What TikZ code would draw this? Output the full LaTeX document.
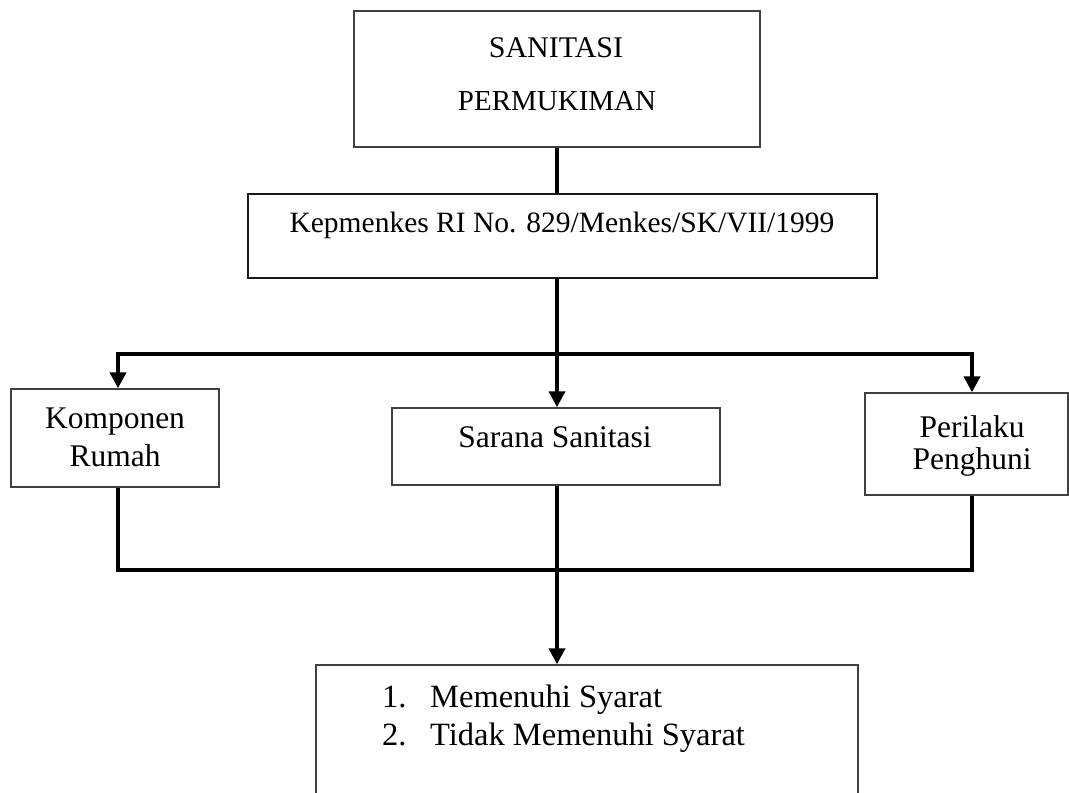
\documentclass[tikz,border=0pt]{standalone}
\usepackage{fontspec}
\setmainfont{Liberation Serif}
\usetikzlibrary{arrows.meta}
\begin{document}
\begin{tikzpicture}[x=1pt,y=-1pt,
  box/.style={draw=black!75, line width=1.5pt, inner sep=0pt},
  kbox/.style={draw=black!90, line width=2.5pt, inner sep=0pt},
  txt/.style={inner sep=0pt, anchor=base, font=\fontsize{31.5}{36}\selectfont},
  ltxt/.style={txt, anchor=base west, font=\fontsize{32.5}{38}\selectfont},
  conn/.style={line width=4.5pt},
  arrow/.style={line width=4.5pt, -{Triangle[width=16pt,length=16pt]}}]
\useasboundingbox (0,0) rectangle (1069,793);
\fill[white] (0,0) rectangle (1069,793);
\clip (0,0) rectangle (1069,793);
% boxes
\node[box, minimum width=406pt, minimum height=136pt] (top) at (557,79) {};
\node[kbox, minimum width=629pt, minimum height=84pt] (kep) at (562.5,236) {};
\node[box, minimum width=208pt, minimum height=98pt] (komp) at (115,438) {};
\node[box, minimum width=328pt, minimum height=77pt] (sar) at (556,446.5) {};
\node[box, minimum width=203pt, minimum height=102pt] (per) at (966.5,444) {};
\node[box, minimum width=542pt, minimum height=175pt] (res) at (587,752.5) {};
% texts
\node[txt, font=\fontsize{30}{34}\selectfont] (t1) at (556,57) {SANITASI};
\node[txt, font=\fontsize{29}{34}\selectfont] (t2) at (557,110) {PERMUKIMAN};
\node[txt, font=\fontsize{29.5}{34}\selectfont] (tk) at (562,232) {Kepmenkes RI No. 829/Menkes/SK/VII/1999};
\node[txt] (tc1) at (115,428) {Komponen};
\node[txt] (tc2) at (115,466) {Rumah};
\node[txt] (ts) at (555,447) {Sarana Sanitasi};
\node[txt] (tp1) at (972,437) {Perilaku};
\node[txt] (tp2) at (972,469) {Penghuni};
\node[ltxt] (n1) at (382,707) {1.};
\node[ltxt] (l1) at (430,707) {Memenuhi Syarat};
\node[ltxt] (n2) at (382,745) {2.};
\node[ltxt] (l2) at (430,745) {Tidak Memenuhi Syarat};
% junctions
\coordinate (j1) at (557,354);
\coordinate (j1l) at (118,354);
\coordinate (j1r) at (972,354);
\coordinate (j2) at (557,570);
% connectors
\draw[conn] (top.south -| j1) -- (kep.north -| j1);
\draw[conn] (kep.south -| j1) -- (j1);
\draw[arrow] (j1) -| (komp.north -| j1l);
\draw[arrow] (j1) -| (per.north -| j1r);
\draw[arrow] (j1) -- (sar.north -| j1);
\draw[conn] (komp.south -| j1l) |- (j2);
\draw[conn] (per.south -| j1r) |- (j2);
\draw[arrow] (sar.south -| j2) -- (res.north -| j2);
\end{tikzpicture}
\end{document}
